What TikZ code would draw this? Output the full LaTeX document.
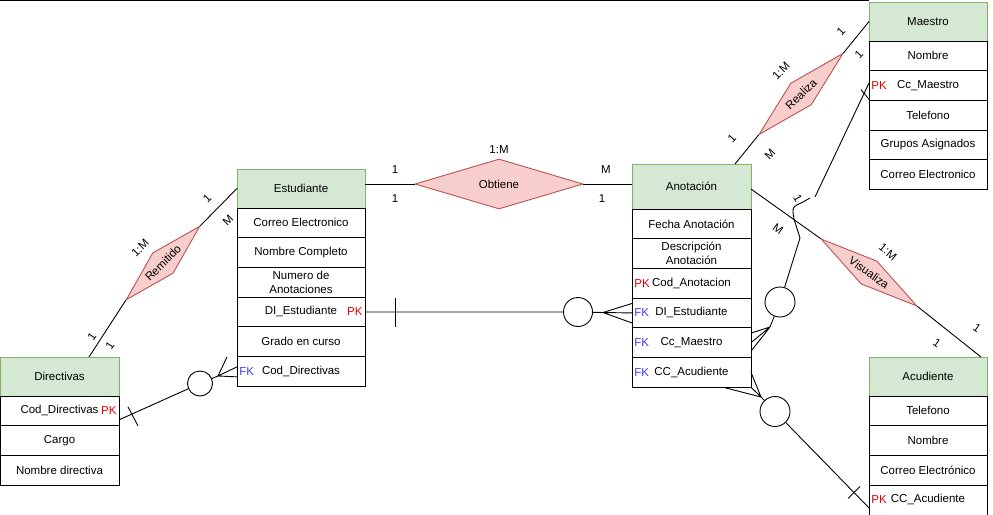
\documentclass[tikz,border=0pt]{standalone}
\usepackage{fontspec}
\setmainfont{Liberation Sans}
\usetikzlibrary{calc,positioning,shapes}

\definecolor{hdrfill}{HTML}{D5E8D4}
\definecolor{hdrline}{HTML}{82B366}
\definecolor{relfill}{HTML}{F8CECC}
\definecolor{relline}{HTML}{B85450}
\definecolor{pkred}{HTML}{E00000}
\definecolor{fkblue}{HTML}{3B3BFF}

\begin{document}
\begin{tikzpicture}[x=1pt,y=-1pt,line width=0.9pt,
    every node/.style={font=\fontsize{11.5}{14}\selectfont},
    header/.style={fill=hdrfill,draw=hdrline,minimum height=39pt,inner sep=0pt,outer sep=0pt},
    attr/.style={draw,minimum height=29.7pt,inner sep=0pt,outer sep=0pt,align=center},
    rel/.style={diamond,fill=relfill,draw=relline,inner sep=0pt,shape aspect=3.6},
    zero/.style={circle,draw,inner sep=0pt},
    card/.style={inner sep=0pt},
    pk/.style={text=pkred,inner sep=2pt},
    fk/.style={text=fkblue,inner sep=2pt}]

    \useasboundingbox (0,0) rectangle (993,514);
    \draw (0,0.6) -- (869,0.6);

    % entidades
    \node[header,minimum width=128pt,anchor=north west] (estH) at (237,169) {Estudiante};
    \foreach \t [count=\i, remember=\i as \p (initially H)] in {Correo Electronico,Nombre Completo,{Numero de\\Anotaciones},DI\_Estudiante,Grado en curso,Cod\_Directivas}
      \node[attr,minimum width=128pt,below=0pt of est\p] (est\i) {\t};
    \node[pk,anchor=east] (estPK) at (est4.east) {PK};
    \node[fk,anchor=west] (estFK) at (est6.west) {FK};

    \node[header,minimum width=119pt,anchor=north west] (dirH) at (0,357) {Directivas};
    \foreach \t [count=\i, remember=\i as \p (initially H)] in {Cod\_Directivas,Cargo,Nombre directiva}
      \node[attr,minimum width=119pt,below=0pt of dir\p] (dir\i) {\t};
    \node[pk,anchor=east] (dirPK) at (dir1.east) {PK};

    \node[header,minimum width=119pt,minimum height=45pt,anchor=north west] (anotH) at (632,164) {Anotación};
    \foreach \t [count=\i, remember=\i as \p (initially H)] in {Fecha Anotación,{Descripción\\Anotación},Cod\_Anotacion,DI\_Estudiante,Cc\_Maestro,CC\_Acudiente}
      \node[attr,minimum width=119pt,below=0pt of anot\p] (anot\i) {\t};
    \node[pk,anchor=west] (anotPK) at (anot3.west) {PK};
    \foreach \i in {4,5,6}
      \node[fk,anchor=west] (anotFK\i) at (anot\i.west) {FK};

    \node[header,minimum width=118pt,anchor=north west] (maesH) at (869,2) {Maestro};
    \foreach \t [count=\i, remember=\i as \p (initially H)] in {Nombre,Cc\_Maestro,Telefono,Grupos Asignados,Correo Electronico}
      \node[attr,minimum width=118pt,below=0pt of maes\p] (maes\i) {\t};
    \node[pk,anchor=west] (maesPK) at (maes2.west) {PK};

    \node[header,minimum width=118pt,anchor=north west] (acuH) at (869,357) {Acudiente};
    \foreach \t [count=\i, remember=\i as \p (initially H)] in {Telefono,Nombre,Correo Electrónico}
      \node[attr,minimum width=118pt,below=0pt of acu\p] (acu\i) {\t};
    \node[attr,minimum width=118pt,minimum height=32pt,anchor=north] (acu4) at ($(acu3.south)+(0,0)$) {};
    \node (acuKey) at ($(acu4.west)!0.5!(acu4.east)+(0,-1.2)$) {CC\_Acudiente};
    \node[pk,anchor=west] (acuPK) at (acuKey.west -| acu4.west) {PK};

    % relaciones
    \node[rel,minimum width=168pt,minimum height=50pt,shape aspect=3.4] (obtiene) at (499,184) {Obtiene};
    \node[rel,rotate=45,minimum width=104pt,minimum height=29pt] (remitido) at (163,263) {Remitido};
    \node[rel,rotate=44,minimum width=117pt,minimum height=30pt] (realiza) at (801,94) {Realiza};
    \node[rel,rotate=-35,minimum width=117pt,minimum height=28pt,shape aspect=4.2] (visualiza) at (869,272.5) {Visualiza};

    \draw (estH.east |- obtiene.west) -- (obtiene.west);
    \draw (obtiene.east) -- (obtiene.east -| anotH.west);
    \draw ($(dirH.north east)+(-30,0)$) -- (remitido.west);
    \draw (remitido.east) -- (estH.west);
    \draw ($(anotH.north east)+(-16,0)$) -- (realiza.west);
    \draw (realiza.east) -- (maesH.west);
    \draw ($(anotH.east)+(0,2.5)$) -- (visualiza.west);
    \draw (visualiza.east) -- ($(acuH.north east)+(-6,0)$);

    % cardinalidades
    \foreach \x/\y/\r/\t [count=\i] in {395/170/0/1,395/199/0/1,606/170/0/M,602/199/0/1,499/150/0/1:M,
        92/337/56/1,110/346/56/1,207/198/45/1,228/220/45/M,140/248/45/1:M,
        732/138/47/1,770/154/47/M,781/71/45/1:M,841/31/47/1,859/54/47/1,
        778/229/-35/M,888/252/-40/1:M,977/328/-35/1,937/343/-35/1,798/198/-60/1}
      \node[card,rotate=\r] (card\i) at (\x,\y) {\t};

    % llaves foraneas
    \node[zero,minimum size=29pt] (c1) at (578,312) {};
    \node[zero,minimum size=25pt] (c2) at (200,383.5) {};
    \node[zero,minimum size=30pt] (c3) at (780,302) {};
    \node[zero,minimum size=30pt] (c4) at (775,411.5) {};
    \coordinate (f1) at (603,312.5);
    \coordinate (f2) at (218,376);
    \coordinate (f3) at (770,327);
    \coordinate (f4) at (761,397);
    \coordinate (j1) at (800,238);
    \coordinate (j2) at (794,219);
    \coordinate (j3) at (803,202);
    \coordinate (j4) at (810,198);
    \coordinate (j5) at (815,197);

    \draw (est4.east) -- (c1) -- (f1);
    \draw (f1) -- ($(anot4.west)+(0,-9.5)$) (f1) -- (anot4.west) (f1) -- ($(anot4.west)+(0,10)$);
    \draw ($(est4.east)+(30,-14)$) -- ++(0,29);

    \draw ($(dir1.east)+(0,9)$) -- (c2) -- (f2);
    \draw (f2) -- ($(est6.west)+(0,-4.5)$) (f2) -- ($(est6.west)+(0,5.5)$) (f2) -- ($(f2)+(9,-19)$);
    \draw ($(dir1.east)+(9,-4)$) -- ++(10,19);

    \draw (f3) -- ($(anot5.east)+(0,-9.5)$) (f3) -- (anot5.east) (f3) -- ($(anot5.east)+(0,8.5)$);
    \draw (f3) -- (c3) -- (j1) -- (j2) .. controls (792,207) .. (j3) -- (j4);
    \draw (j5) -- ($(maes2.west)+(0,-2.5)$);
    \draw ($(maes2.west)+(-8,4)$) -- ++(9,11);

    \draw (f4) -- (anot6.east) (f4) -- (anot6.south east) (f4) -- ($(anot6.south east)+(-28,0)$);
    \draw (f4) -- (c4) -- ($(acuKey.west -| acu4.west)+(0,8)$);
    \draw ($(acuKey.west -| acu4.west)+(-21,-1.5)$) -- ++(12,-12);
\end{tikzpicture}
\end{document}
